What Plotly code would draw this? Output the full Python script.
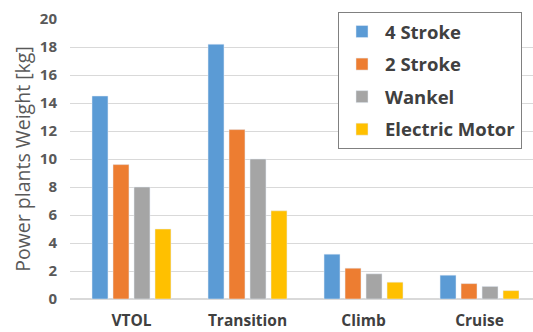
import plotly.graph_objects as go

categories = ["VTOL", "Transition", "Climb", "Cruise"]
series_names = ["4 Stroke", "2 Stroke", "Wankel", "Electric Motor"]
four_stroke = [14.5, 18.2, 3.2, 1.7]
two_stroke = [9.6, 12.1, 2.2, 1.1]
wankel = [8.0, 10.0, 1.8, 0.9]
electric = [5.0, 6.3, 1.2, 0.6]
y_ticks = [0, 2, 4, 6, 8, 10, 12, 14, 16, 18, 20]

colors = ["#5B9BD5", "#ED7D31", "#A5A5A5", "#FFC000"]
values = [four_stroke, two_stroke, wankel, electric]

fig = go.Figure()
for i, (name, vals) in enumerate(zip(series_names, values)):
    fig.add_trace(go.Bar(x=categories, y=vals, name=name, marker_color=colors[i],
                         legendgroup=name))

W, H = 533, 332
L, R, T, B = 70, 0, 19, 33
pw, ph = W - L - R, H - T - B
FONT = "Open Sans"
fig.update_layout(
    width=W, height=H,
    margin=dict(l=L, r=R, t=T, b=B, autoexpand=False),
    paper_bgcolor="white", plot_bgcolor="white",
    barmode="group", bargap=0.276, bargroupgap=0.24,
    font=dict(family=FONT, color="#595959"),
    legend=dict(
        x=(338 - L) / pw, xanchor="left",
        y=1 + (T - 12) / ph, yanchor="top",
        bgcolor="white", bordercolor="#808080", borderwidth=1,
        font=dict(size=18.5, color="#404040", family=FONT, weight="bold"),
        tracegroupgap=5.5, itemwidth=36, entrywidth=205,
    ),
    xaxis=dict(range=[-0.530, 3.461], showgrid=False, showline=False, ticks="",
               ticklabelstandoff=10,
               tickfont=dict(size=15.5, weight="bold", color="#404040")),
    yaxis=dict(range=[0, 20], tickvals=y_ticks, showgrid=True, gridcolor="#D9D9D9",
               zeroline=True, zerolinecolor="#D9D9D9", ticks="",
               ticklabelstandoff=12,
               tickfont=dict(size=15, weight="bold", color="#595959"),
               title=dict(text="Power plants Weight [kg]", font=dict(size=19.5, color="#595959"),
                          standoff=4)),
)
fig.write_html("out.html")
